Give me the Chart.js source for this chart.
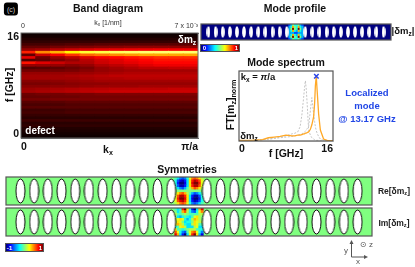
<!DOCTYPE html>
<html>
<head>
<meta charset="utf-8">
<script src="https://cdn.jsdelivr.net/npm/chart.js@4"></script>
<style>
  html, body { margin: 0; padding: 0; background: #fff; }
  /* the source figure is a soft, downscaled bitmap */
  #page { position: relative; width: 415px; height: 267px; overflow: hidden; font-family: "Liberation Sans", Arial, sans-serif; filter: blur(0.35px); }
  canvas { position: absolute; }
  .t { position: absolute; white-space: nowrap; transform: translate(-50%, -50%); color: #111; line-height: 1; }
  .t sub { font-size: 68%; vertical-align: -0.25em; line-height: 0; }
  .bar { position: absolute; box-sizing: border-box; border: 1px solid #555;
    background: linear-gradient(90deg, #00007f, #0000ff 12%, #00ffff 37%, #80ff80 50%, #ffff00 63%, #ff0000 88%, #7f0000); }
</style>
</head>
<body>
<div id="page">
  <canvas id="band" width="205" height="143" style="left:0;top:16px"></canvas>
  <canvas id="profile" width="192" height="18" style="left:200px;top:23px"></canvas>
  <canvas id="spectrum" width="115" height="98" style="left:225px;top:62px"></canvas>
  <canvas id="re" width="368" height="30" style="left:5px;top:176px"></canvas>
  <canvas id="im" width="368" height="30" style="left:5px;top:207px"></canvas>
</div>
<script>
// === Band diagram: intensity per frequency row (top = 16 GHz), 12 kx columns ===
const freqTicks = [0, 16];
const bandTopLabels = ["0", "7 x 10⁻³"];
const bandBottomLabels = ["0", "π/a"];
const bandRows = [
  [2,2,2,2,2,2,2,2,2,2,2,2],
  [3,3,3,3,3,3,3,3,3,3,3,3],
  [5,5,5,5,5,5,5,5,5,5,5,5],
  [7,7,8,8,8,8,8,8,8,8,8,8],
  [10,10,11,12,12,13,13,13,13,13,13,13],
  [15,15,17,18,19,20,20,21,21,21,21,21],
  [22,24,27,30,32,34,34,35,35,36,36,36],
  [42,58,64,74,80,82,84,85,86,86,86,86],
  [14,30,36,45,52,55,58,60,62,62,62,62],
  [34,16,22,27,32,36,38,40,42,44,44,44],
  [12,14,18,22,27,31,33,36,38,40,40,40],
  [40,33,30,26,26,30,32,34,36,38,38,38],
  [22,22,22,20,22,26,28,30,33,35,35,35],
  [12,13,14,16,18,22,24,26,28,28,29,29],
  [17,17,17,18,20,22,23,24,24,24,24,24],
  [22,22,22,22,23,24,25,26,26,26,26,26],
  [24,24,24,25,26,27,28,28,28,28,28,28],
  [24,24,24,24,25,26,26,27,27,27,27,27],
  [20,20,21,22,23,24,24,24,24,24,24,24],
  [18,18,19,20,21,21,22,22,22,22,22,22],
  [20,20,21,21,22,23,23,23,24,24,24,24],
  [23,24,25,26,27,27,28,28,28,28,29,29],
  [24,25,26,27,28,29,30,30,30,30,30,30],
  [16,17,17,18,18,19,19,19,19,19,19,19],
  [15,15,16,16,17,17,17,17,17,17,17,17],
  [17,17,18,18,18,18,18,18,18,18,18,18],
  [13,13,13,14,14,14,14,14,14,14,14,14],
  [11,11,11,12,12,12,12,12,12,12,12,12],
  [13,13,13,13,13,13,13,13,13,13,13,13],
  [9,9,9,10,10,10,10,10,10,10,10,10],
  [10,10,10,11,11,11,11,11,11,11,11,11],
  [8,8,8,8,8,8,8,8,8,8,8,8],
  [6,6,6,6,6,6,6,6,6,6,6,6],
  [9,9,9,9,9,9,9,9,9,9,9,9],
  [6,6,6,6,6,6,6,6,6,6,6,6],
  [7,7,7,7,7,7,7,7,7,7,7,7],
  [5,5,5,5,5,5,5,5,5,5,5,5],
  [4,4,4,4,4,4,4,4,4,4,4,4],
  [3,3,3,3,3,3,3,3,3,3,3,3],
  [2,2,2,2,2,2,2,2,2,2,2,2]
];
const rowStepGHz = 0.4;

// === Mode spectrum ===
const freqs =    [0,2,4,5,6,7,8,9,9.5,10,10.4,10.7,11,11.15,11.3,11.45,11.6,11.85,12.15,12.4,12.7,12.87,13,13.15,13.3,13.55,13.85,14.4,15,16];
const specMain = [.01,.01,.02,.05,.06,.07,.09,.08,.08,.09,.09,.1,.11,.11,.12,.12,.13,.14,.18,.25,.37,.58,.85,1,.78,.42,.17,.03,.01,.005];
const specGray1 = [0,.01,.02,.03,.04,.06,.08,.11,.12,.14,.22,.4,.67,.82,.93,.8,.58,.17,.09,.05,.03,.02,.01,.01,.01,.01,.005,0,0,0];
const specGray2 = [0,.01,.02,.03,.04,.05,.06,.07,.08,.09,.1,.11,.13,.14,.15,.17,.19,.22,.47,.67,.42,.3,.22,.16,.12,.07,.03,.01,0,0];
const peakF = 13.17;
const peakY = 1;
const specTicks = [0, 16];

// === Antidot positions, in lattice periods from the defect ===
const antidotX = [-12.3,-11.3,-10.3,-9.3,-8.3,-7.3,-6.3,-5.3,-4.3,-3.3,-2.3,-1.3,1.3,2.3,3.3,4.3,5.3,6.3,7.3,8.3,9.3,10.3,11.3,12.3];

// === Field around the defect, in tenths ===
const profileCells = [
  [2,3,5,4,4,5,3,2],
  [3,4,7,5,4,7,4,3],
  [3,5,10,5,4,10,5,3],
  [3,4,7,4,3,7,4,3],
  [3,3,3,2,2,3,3,3],
  [3,4,7,4,3,7,4,3],
  [3,5,10,5,4,10,5,3],
  [2,3,5,4,4,5,3,2]
];
const reCells = [
  [-1,-3,-5,-6,-5,-2,2,5,6,5,3,1],
  [-2,-6,-8,-9,-7,-3,3,7,9,8,6,2],
  [-2,-7,-10,-10,-8,-3,3,8,10,10,7,2],
  [-2,-6,-9,-9,-7,-3,3,7,9,9,6,2],
  [-1,-3,-5,-6,-4,-1,1,4,6,5,3,1],
  [0,0,0,0,0,0,0,0,0,0,0,0],
  [1,3,5,6,4,1,-1,-4,-6,-5,-3,-1],
  [2,6,9,9,7,3,-3,-7,-9,-9,-6,-2],
  [2,7,10,10,8,3,-3,-8,-10,-10,-7,-2],
  [2,6,8,9,7,3,-3,-7,-9,-8,-6,-2],
  [1,3,5,6,5,2,-2,-5,-6,-5,-3,-1]
];
const imCells = [
  [-1,-3,-2,7,10,3,-2,-7,-10,-3,4,8],
  [0,-3,-1,4,6,1,-2,-5,-6,-2,2,5],
  [1,-1,-1,0,1,0,-1,-1,-1,-1,1,1],
  [0,-3,-4,-2,-1,-2,-3,-1,2,3,1,0],
  [1,2,3,2,-2,-4,-2,1,4,3,1,0],
  [1,3,2,0,-3,-2,-2,0,3,2,1,1],
  [2,4,3,1,-2,-3,-3,1,3,2,-1,-1],
  [-2,-1,2,3,1,-3,-3,-3,1,2,-3,-3],
  [3,-1,-1,-2,-1,0,1,1,1,-1,-2,-2],
  [6,2,-2,-5,-6,-1,2,5,6,2,-2,-5],
  [8,4,-3,-7,-10,-3,2,7,10,3,-4,-8]
];

const FONT = '"Liberation Sans", Arial, sans-serif';
Chart.defaults.font.family = FONT;
Chart.defaults.animation = false;
Chart.defaults.plugins.legend.display = false;
Chart.defaults.plugins.tooltip.enabled = false;
Chart.defaults.responsive = false;
Chart.defaults.layout.autoPadding = false;

const clamp = v => Math.max(0, Math.min(1, v));
const rgb = (r, g, b) => `rgb(${Math.round(r * 255)},${Math.round(g * 255)},${Math.round(b * 255)})`;

function hot(v) {
  return rgb(clamp(v / 0.375), clamp((v - 0.375) / 0.375), clamp((v - 0.75) / 0.25));
}
function jet(t) {
  return rgb(clamp(1.5 - Math.abs(4 * t - 3)), clamp(1.5 - Math.abs(4 * t - 2)), clamp(1.5 - Math.abs(4 * t - 1)));
}

// frame + plot background, from options.plugins.frame
const framePlugin = {
  id: "frame",
  beforeDatasetsDraw(chart, args, opts) {
    if (!opts.fill) return;
    const a = chart.chartArea;
    chart.ctx.fillStyle = opts.fill;
    chart.ctx.fillRect(a.left, a.top, a.right - a.left, a.bottom - a.top);
  },
  afterDatasetsDraw(chart, args, opts) {
    const a = chart.chartArea, c = chart.ctx;
    c.save();
    c.strokeStyle = opts.color || "#555";
    c.lineWidth = opts.width || 1.2;
    c.strokeRect(a.left, a.top, a.right - a.left, a.bottom - a.top);
    c.restore();
  }
};
Chart.register(framePlugin);

const noGrid = { display: false, drawTicks: false };

// === Band diagram ===
const columns = bandRows[0].map((_, i) => i);
const bandDatasets = bandRows.slice().reverse().map(row => ({
  data: row.map(() => rowStepGHz),
  backgroundColor: row.map(v => hot(v / 100)),
  borderWidth: 0,
  inflateAmount: 0.5,
  barPercentage: 1,
  categoryPercentage: 1,
  xAxisID: "x",
  stack: "s"
}));

new Chart(document.getElementById("band"), {
  type: "bar",
  data: { labels: columns, datasets: bandDatasets },
  options: {
    layout: { padding: { right: 7 } },
    scales: {
      x: { display: false, stacked: true },
      y: {
        stacked: true, min: 0, max: 16,
        grid: noGrid,
        border: { color: "#666", width: 1 },
        afterBuildTicks: s => { s.ticks = freqTicks.map(value => ({ value })); },
        afterFit: s => { s.width = 21; },
        ticks: {
          color: "#111", padding: 2,
          font: { size: 10.5, weight: "bold", lineHeight: 0.8 },
          // the end labels sit inside the axis range
          callback: v => v === 0 ? [String(v), ""] : ["", String(v)]
        }
      },
      xTop: {
        type: "linear", position: "top", min: 0, max: 0.007, offset: false,
        grid: noGrid, border: { color: "#666", width: 1 },
        afterBuildTicks: s => { s.ticks = [{ value: 0 }, { value: 0.007 }]; },
        afterFit: s => { s.height = 17; },
        ticks: {
          color: "#333", padding: 3, align: "inner", maxRotation: 0,
          font: { size: 7 },
          callback: v => v === 0 ? bandTopLabels[0] : bandTopLabels[1]
        }
      },
      xBottom: {
        type: "linear", position: "bottom", min: 0, max: 1, offset: false,
        grid: noGrid, border: { color: "#666", width: 1 },
        afterBuildTicks: s => { s.ticks = [{ value: 0 }, { value: 1 }]; },
        afterFit: s => { s.height = 21; },
        ticks: {
          color: "#111", padding: 3, align: "inner", maxRotation: 0,
          font: { size: 10.5, weight: "bold" },
          callback: v => v === 0 ? bandBottomLabels[0] : bandBottomLabels[1]
        }
      }
    },
    plugins: { frame: { color: "#666", width: 1 } }
  }
});

// === Strips with antidots ===
function ellipseSprite(w, h, stroke) {
  const c = document.createElement("canvas");
  const pad = stroke ? 1 : 0;
  c.width = Math.ceil(w) + 2 * pad;
  c.height = Math.ceil(h) + 2 * pad;
  const g = c.getContext("2d");
  g.beginPath();
  g.ellipse(c.width / 2, c.height / 2, w / 2, h / 2, 0, 0, Math.PI * 2);
  g.fillStyle = "#fff";
  g.fill();
  if (stroke) {
    g.strokeStyle = stroke;
    g.lineWidth = 1;
    g.stroke();
  }
  return c;
}

const XSPAN = 13.35;
const HEAT_SPAN = 1.05;

function strip(id, cells, toColor, cellPx, sprite, fill) {
  const rows = cells.length, cols = cells[0].length;
  const pts = [], colors = [];
  cells.forEach((row, j) => row.forEach((v, i) => {
    pts.push({ x: -HEAT_SPAN + (i + 0.5) * 2 * HEAT_SPAN / cols, y: 1 - (j + 0.5) * 2 / rows });
    colors.push(toColor(v / 10));
  }));
  new Chart(document.getElementById(id), {
    type: "scatter",
    data: {
      datasets: [
        { data: antidotX.map(x => ({ x, y: 0 })), pointStyle: sprite, pointRadius: 3 },
        { data: pts, pointStyle: "rect", pointRadius: cellPx / 2 * Math.SQRT2, pointBackgroundColor: colors, pointBorderWidth: 0 }
      ]
    },
    options: {
      layout: { padding: 1 },
      scales: {
        x: { type: "linear", display: false, min: -XSPAN, max: XSPAN },
        y: { type: "linear", display: false, min: -1, max: 1 }
      },
      plugins: { frame: { fill, color: "#555", width: 1.2 } }
    }
  });
}

strip("profile", profileCells, jet, 2.2, ellipseSprite(3.8, 11.5, null), "#000080");
strip("re", reCells, v => jet((v + 1) / 2), 2.9, ellipseSprite(9, 24, "#111"), "#80ff80");
strip("im", imCells, v => jet((v + 1) / 2), 2.9, ellipseSprite(9, 24, "#111"), "#80ff80");

// === Mode spectrum ===
const toPoints = ys => ys.map((y, i) => ({ x: freqs[i], y }));

new Chart(document.getElementById("spectrum"), {
  type: "scatter",
  data: {
    datasets: [
      { data: [{ x: peakF, y: peakY }], pointStyle: "crossRot", pointRadius: 3.2, pointBorderColor: "#2b45e8", pointBorderWidth: 1.5, clip: false },
      { data: toPoints(specMain), showLine: true, borderColor: "#ffa928", borderWidth: 1.3, pointRadius: 0 },
      { data: toPoints(specGray1), showLine: true, borderColor: "#c4c4c4", borderWidth: 1, borderDash: [2, 1.5], pointRadius: 0 },
      { data: toPoints(specGray2), showLine: true, borderColor: "#c4c4c4", borderWidth: 1, borderDash: [2, 1.5], pointRadius: 0 }
    ]
  },
  options: {
    layout: { padding: { left: 14, right: 7, top: 9 } },
    scales: {
      x: {
        type: "linear", min: 0, max: 16,
        grid: noGrid,
        afterBuildTicks: s => { s.ticks = specTicks.map(value => ({ value })); },
        afterFit: s => { s.height = 19; },
        ticks: { color: "#111", padding: 2, align: "inner", maxRotation: 0, font: { size: 10.5, weight: "bold" } }
      },
      y: { type: "linear", display: false, min: 0, max: 1.08 }
    },
    plugins: { frame: { color: "#555", width: 1.2 } }
  }
});

// === Text ===
const page = document.getElementById("page");
function addText(html, x, y, size, weight, color, rotate) {
  const d = document.createElement("div");
  d.className = "t";
  d.innerHTML = html;
  d.style.left = x + "px";
  d.style.top = y + "px";
  d.style.fontSize = size + "px";
  d.style.fontWeight = weight || "normal";
  if (color) d.style.color = color;
  if (rotate) d.style.transform = `translate(-50%, -50%) rotate(${rotate}deg)`;
  page.appendChild(d);
  return d;
}

addText("Band diagram", 108, 8, 10.5, "bold");
addText("Mode profile", 295, 8, 10.5, "bold");
addText("Mode spectrum", 286, 62, 10.5, "bold");
addText("Symmetries", 187, 169, 10.5, "bold");

addText("k<sub>x</sub> [1/nm]", 108, 22, 7, "normal", "#333");
addText("f [GHz]", 9, 85, 10.5, "bold", null, -90);
addText("k<sub>x</sub>", 108, 149, 10.5, "bold");
addText("δm<sub>z</sub>", 187, 40, 10, "bold", "#fff");
addText("defect", 40, 131, 10, "bold", "#fff");

addText("|δm<sub>z</sub>|", 403, 31, 9.5, "bold");
addText("k<sub>x</sub> = <i>π</i>/a", 258, 77, 9.5, "bold");
addText("δm<sub>z</sub>", 249, 136, 9.5, "bold");
addText("FT[m<sub>z</sub>]<sub>norm</sub>", 230, 105, 10.5, "bold", null, -90);
addText("f [GHz]", 286, 153, 10.5, "bold");

const BLUE = "#2146e6";
addText("Localized", 367, 93, 9.5, "bold", BLUE);
addText("mode", 367, 106, 9.5, "bold", BLUE);
addText("@ 13.17 GHz", 367, 119, 9.5, "bold", BLUE);

addText("Re[δm<sub>z</sub>]", 394, 191, 8.5, "bold", "#222");
addText("Im[δm<sub>z</sub>]", 394, 223, 8.5, "bold", "#222");

// panel tag
const tag = addText("(c)", 11, 8.5, 7, "normal", "#ccc");
tag.style.background = "#000";
tag.style.borderRadius = "3px";
tag.style.padding = "3px 3px";

// colour bars
function colourBar(x, y, w, h, lo, hi) {
  const b = document.createElement("div");
  b.className = "bar";
  b.style.cssText = `left:${x}px;top:${y}px;width:${w}px;height:${h}px`;
  page.appendChild(b);
  addText(lo, x + 4.5, y + h / 2, 6, "bold", "#fff");
  addText(hi, x + w - 3.5, y + h / 2, 6, "bold", "#fff");
}
colourBar(200, 44, 40, 8, "0", "1");
colourBar(5, 243, 39, 9, "-1", "1");

// coordinate glyph
page.insertAdjacentHTML("beforeend", `<svg width="415" height="267" style="position:absolute;left:0;top:0" fill="none">
  <path d="M351.5 257V242M351.5 257H366" stroke="#555" stroke-width="1"/>
  <path d="M351.5 240l-2 4h4zM368 257l-4 -2v4z" fill="#555"/>
</svg>`);
addText("y", 346, 251, 8, "normal", "#555");
addText("x", 358, 262, 8, "normal", "#555");
addText("z", 371, 245, 8, "normal", "#555");
addText("⊙", 363, 245, 8, "normal", "#555").style.fontFamily = "DejaVu Sans";
</script>
</body>
</html>
